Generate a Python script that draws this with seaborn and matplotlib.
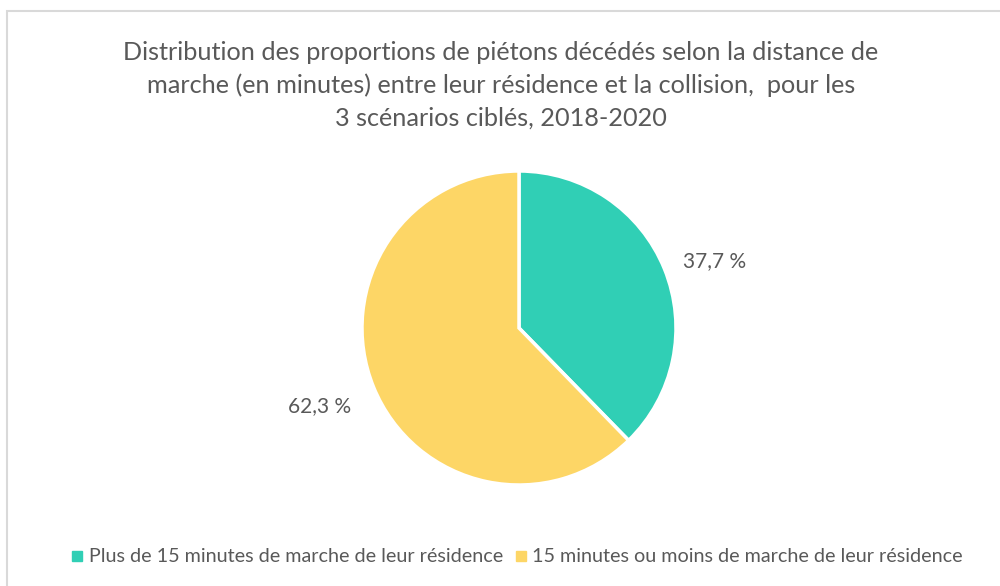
import matplotlib
matplotlib.use("Agg")
import matplotlib.pyplot as plt
import seaborn as sns
from matplotlib.patches import Rectangle
from matplotlib.lines import Line2D

# data
categories = ["Plus de 15 minutes de marche de leur résidence",
              "15 minutes ou moins de marche de leur résidence"]
values = [37.7, 62.3]
colors = ["#30CFB5", "#FDD666"]
title = ("Distribution des proportions de piétons décédés selon la distance de\n"
         "marche (en minutes) entre leur résidence et la collision,  pour les\n"
         "3 scénarios ciblés, 2018-2020")

sns.set_theme(style="white")
plt.rcParams['font.family'] = ['Lato', 'DejaVu Sans']
text_color = "#595959"

fig = plt.figure(figsize=(10, 5.86), dpi=100)

# frame around the chart area
fig.patches.append(Rectangle((7 / 1000, -0.05), 1.1, 1.05 - 11 / 586,
                             transform=fig.transFigure, fill=False,
                             edgecolor="#D9D9D9", linewidth=1.5))

# pie: center (519, 328) px, radius 157 px
ax = fig.add_axes([(519 - 157) / 1000, (258 - 157) / 586, 314 / 1000, 314 / 586])
wedges, texts = ax.pie(values, colors=colors, startangle=90, counterclock=False,
                       wedgeprops=dict(edgecolor="white", linewidth=2.5),
                       labels=[f"{v:.1f} %".replace('.', ',') for v in values],
                       labeldistance=1.32,
                       textprops=dict(color=text_color, fontsize=15))
for t in texts:
    t.set_horizontalalignment("center")
    t.set_verticalalignment("center")
# small nudges to mimic the "best fit" placement
x0, y0 = texts[0].get_position()
texts[0].set_position((x0 + 0.02, y0 - 0.07))
x1, y1 = texts[1].get_position()
texts[1].set_position((x1 - 0.05, y1))
ax.set_xlim(-1, 1)
ax.set_ylim(-1, 1)
ax.set_aspect("equal")

fig.text(0.501, 1 - 85 / 586, title, ha="center", va="center", fontsize=18.2,
         color=text_color, linespacing=1.5)

handles = [Line2D([], [], marker="s", linestyle="", markersize=7,
                  markerfacecolor=c, markeredgecolor=c) for c in colors]
fig.legend(handles, categories, loc="center", bbox_to_anchor=(0.517, 1 - 557 / 586),
           ncol=2, frameon=False, fontsize=14.2, labelcolor=text_color,
           handlelength=0.6, handletextpad=0.3, columnspacing=0.6)

fig.savefig("out.png", dpi=100)
